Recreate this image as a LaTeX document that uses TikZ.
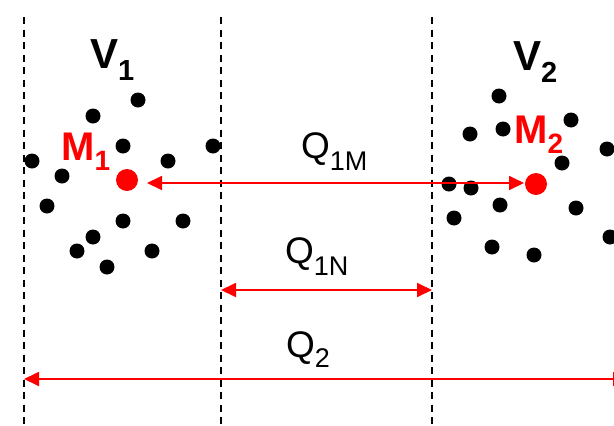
\documentclass[tikz,border=0pt]{standalone}
\usepackage{fontspec}
\setmainfont{Liberation Sans}
\usetikzlibrary{arrows.meta}
\tikzset{
  guide/.style={black, line width=1.5pt, dash pattern=on 7pt off 5.5pt},
  pt/.style={circle, fill=black, inner sep=0pt, minimum size=15pt},
  mass/.style={circle, fill=red, inner sep=0pt, minimum size=22pt},
  span/.style={red, line width=1.8pt, {Triangle[length=15pt,width=14pt]}-{Triangle[length=15pt,width=14pt]}},
  lbl/.style={anchor=base west, inner sep=0pt, font=\fontsize{37}{40}\selectfont},
  vlbl/.style={anchor=base west, inner sep=0pt, font=\bfseries\fontsize{42}{46}\selectfont},
  mlbl/.style={anchor=base west, inner sep=0pt, text=red, font=\bfseries\fontsize{40}{44}\selectfont}
}
\newcommand{\lowsub}[3]{\raisebox{-#1pt}{\fontsize{#2}{#2}\selectfont #3}}
\begin{document}
\begin{tikzpicture}[x=1pt,y=-1pt]
\useasboundingbox (0,0) rectangle (614,426);
\clip (0,0) rectangle (614,426);
% guide lines
\coordinate (a1) at (24,17);  \coordinate (a2) at (24,426);
\coordinate (b1) at (221,17); \coordinate (b2) at (221,426);
\coordinate (c1) at (432,17); \coordinate (c2) at (432,426);
\draw[guide] (a1) -- (a2);
\draw[guide] (b1) -- (b2);
\draw[guide] (c1) -- (c2);
% left cloud
\foreach \x/\y [count=\i] in {138/100,93/116,123/146,213/146,32/161,168/161,62/176,47/206,123/221,183/221,93/237,77/251,152/251,107/267}
  \node[pt] (l\i) at (\x,\y) {};
% right cloud
\foreach \x/\y [count=\i] in {499/96,470/134,503/129,571/120,607/149,562/163,449/184,471/188,500/205,576/208,454/218,492/247,534/255,610/237}
  \node[pt] (r\i) at (\x,\y) {};
% masses
\node[mass] (m1) at (127,180) {};
\node[mass] (m2) at (536,184) {};
% labels
\node[vlbl] (v1) at (90,68) {V\lowsub{12}{29}{1}};
\node[vlbl] (v2) at (513,70) {V\lowsub{12}{29}{2}};
\node[mlbl] (m1l) at (61,160) {M\lowsub{10}{28}{1}};
\node[mlbl] (m2l) at (514,143) {M\lowsub{10}{28}{2}};
% arrows
\coordinate (q1s) at (147,183);
\coordinate (q1e) at (524,183);
\draw[span] (q1s) -- (q1e);
\node[lbl] (q1m) at (301,158) {Q\lowsub{12}{27}{1M}};
\coordinate (q2s) at (221,290);
\coordinate (q2e) at (432,290);
\draw[span] (q2s) -- (q2e);
\node[lbl] (q1n) at (285,263) {Q\lowsub{12}{27}{1N}};
\coordinate (q3s) at (24,379);
\coordinate (q3e) at (628,379);
\draw[span] (q3s) -- (q3e);
\node[lbl] (q2) at (286,357) {Q\lowsub{10}{27}{2}};
\end{tikzpicture}
\end{document}
